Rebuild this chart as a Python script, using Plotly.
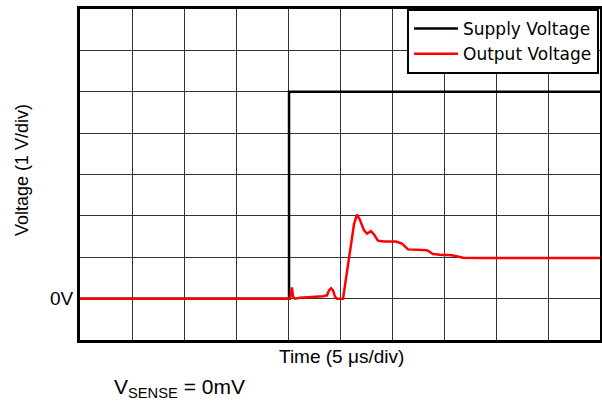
import plotly.graph_objects as go

# Data (time in microseconds, voltage in volts)
supply_t = [0, 20.1, 20.1, 50]
supply_v = [0, 0, 5, 5]

output_t = [0, 20.19, 20.29, 20.38, 20.48, 20.67, 21.15, 22.1, 23.37, 23.75, 23.94, 24.13,
            24.33, 24.52, 24.71, 25.29, 25.96, 26.35, 26.63, 26.92, 27.31, 27.6, 27.98,
            28.27, 28.65, 29.23, 30.38, 30.96, 31.54, 32.31, 33.37, 33.94, 34.62, 35.77,
            36.83, 38.46, 42.3, 50]
output_v = [0, 0, 0.12, 0.27, 0.05, 0.0, 0.02, 0.03, 0.06, 0.08, 0.2, 0.25,
            0.2, 0.05, 0.0, 0.0, 1.1, 1.8, 2.03, 1.9, 1.65, 1.57, 1.63,
            1.55, 1.40, 1.38, 1.38, 1.33, 1.19, 1.18, 1.17, 1.08, 1.06, 1.05,
            0.99, 0.98, 0.98, 0.98]

y_ticks = [-1, 0, 1, 2, 3, 4, 5, 6, 7]
y_ticklabels = ["", "0V", "", "", "", "", "", "", ""]

fig = go.Figure()
fig.add_trace(go.Scatter(x=supply_t, y=supply_v, mode="lines", name="Supply Voltage",
                         line=dict(color="black", width=2.5)))
fig.add_trace(go.Scatter(x=output_t, y=output_v, mode="lines", name="Output Voltage",
                         line=dict(color="#ff0000", width=2.5)))

font_family = "Liberation Sans, Arial, sans-serif"
L, R, T, B = 80, 2, 9, 66
PW, PH = 602 - L - R, 406 - T - B

def px(x):
    return (x - L) / PW

def py(y):
    return (406 - B - y) / PH

fig.update_layout(
    width=602, height=406,
    margin=dict(l=L, r=R, t=T, b=B, autoexpand=False),
    plot_bgcolor="white", paper_bgcolor="white",
    font=dict(family=font_family, color="black", size=16),
    showlegend=True,
    legend=dict(x=px(407), y=1, xanchor="left", yanchor="top",
                bordercolor="black", borderwidth=2, bgcolor="white",
                font=dict(size=17, family="DejaVu Sans, sans-serif"),
                tracegroupgap=0, itemwidth=44),
    xaxis=dict(range=[0, 50], dtick=5, tick0=0, showgrid=True, gridcolor="#333333",
               gridwidth=1.2, showticklabels=False, ticks="", zeroline=False,
               showline=True, linecolor="black", linewidth=3, mirror=True,
               automargin=False),
    yaxis=dict(range=[-1, 7], tickvals=y_ticks, ticktext=y_ticklabels, showgrid=True,
               gridcolor="#333333", gridwidth=1.2, ticks="", zeroline=False,
               showline=True, linecolor="black", linewidth=3, mirror=True,
               tickfont=dict(size=19), automargin=False),
)

fig.add_annotation(text="Time (5 μs/div)", xref="paper", yref="paper",
                   x=px(341), y=py(357), xanchor="center", yanchor="middle",
                   showarrow=False, font=dict(size=19))
fig.add_annotation(text="Voltage (1 V/div)", xref="paper", yref="paper",
                   x=px(22), y=py(170), xanchor="center", yanchor="middle", textangle=-90,
                   showarrow=False, font=dict(size=18))
fig.add_annotation(text="V<sub>SENSE</sub> = 0mV", xref="paper", yref="paper",
                   x=px(112), y=py(388), xanchor="left", yanchor="middle",
                   showarrow=False, font=dict(size=21))

fig.write_html("out.html", config={"displayModeBar": False},
               post_script="document.body.style.margin='0';")
